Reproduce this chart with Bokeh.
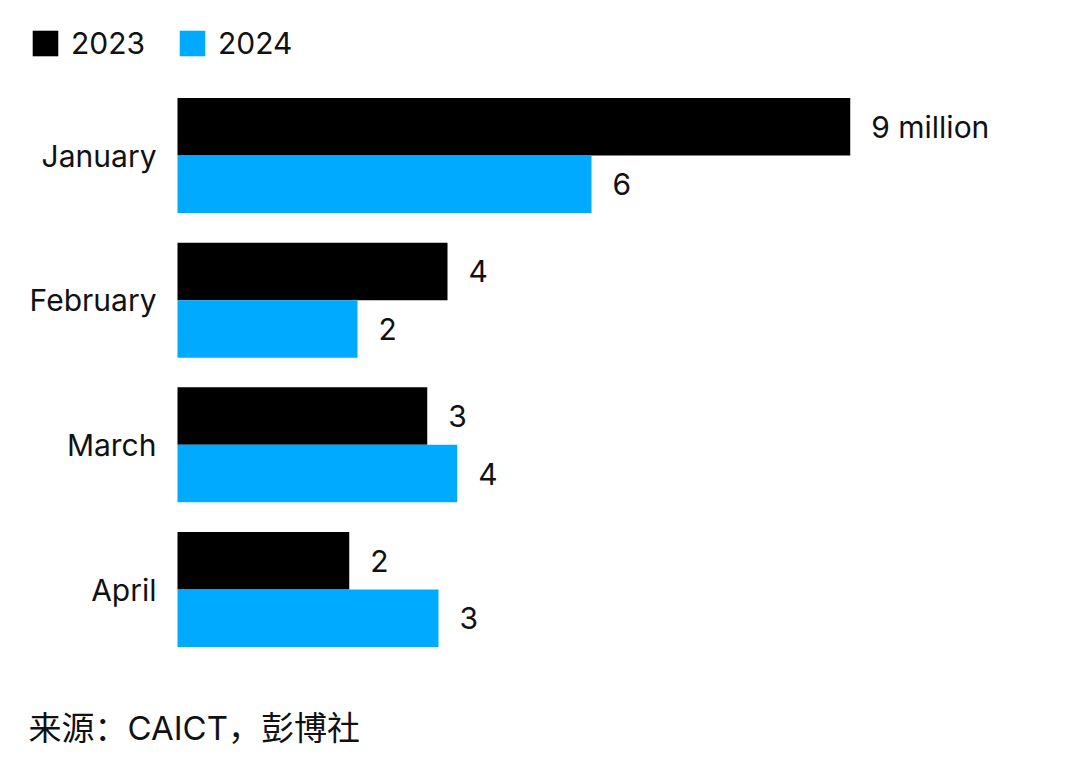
from bokeh.plotting import figure
from bokeh.models import ColumnDataSource, Range1d, Legend, LegendItem, Label
from bokeh.transform import dodge
from bokeh.core.properties import value
from bokeh.embed import file_html
from bokeh.resources import INLINE

months = ["January", "February", "March", "April"]
vals_2023 = [8.97, 3.60, 3.33, 2.29]
vals_2024 = [5.52, 2.40, 3.73, 3.48]
labels_2023 = ["9 million", "4", "3", "2"]
labels_2024 = ["6", "2", "4", "3"]
source_text = "来源：CAICT，彭博社"

FONT = "Inter, 'Noto Sans CJK SC', sans-serif"
TXT = "#111111"
BLACK = "#000000"
BLUE = "#00AAFF"

src = ColumnDataSource(dict(
    y=list(range(len(months))), m=months,
    v23=vals_2023, v24=vals_2024,
    l23=labels_2023, l24=labels_2024,
))

W, H = 1075, 770
X0 = 177.0      # pixel position of value 0
XS = 75.0       # pixels per million
Y0 = 155.0      # pixel centre of first group
YS = 144.67     # pixels per group

p = figure(width=W, height=H, output_backend="svg", toolbar_location=None,
           x_range=Range1d(-X0 / XS, (W - X0) / XS),
           y_range=Range1d((H - Y0) / YS, -Y0 / YS),
           min_border=0, min_border_left=0, min_border_right=0,
           min_border_top=0, min_border_bottom=0)
p.outline_line_color = None
p.xgrid.visible = False
p.ygrid.visible = False
p.xaxis.visible = False
p.yaxis.visible = False
p.background_fill_color = "white"
p.border_fill_color = "white"

bh = 0.3975
r23 = p.hbar(y=dodge("y", -bh / 2), right="v23", left=0, height=bh, source=src,
             fill_color=BLACK, line_color=None)
r24 = p.hbar(y=dodge("y", bh / 2), right="v24", left=0, height=bh, source=src,
             fill_color=BLUE, line_color=None)

p.text(x="v23", y=dodge("y", -bh / 2), text="l23", source=src, x_offset=21,
       text_baseline="middle", text_align="left", text_font=value(FONT),
       text_font_size="30px", text_color=TXT)
p.text(x="v24", y=dodge("y", bh / 2), text="l24", source=src, x_offset=21,
       text_baseline="middle", text_align="left", text_font=value(FONT),
       text_font_size="30px", text_color=TXT)

# category labels
p.text(x=0, y="y", text="m", source=src, x_offset=-21,
       text_baseline="middle", text_align="right", text_font=value(FONT),
       text_font_size="30px", text_color=TXT)

legend = Legend(items=[LegendItem(label="2023", renderers=[r23]),
                       LegendItem(label="2024", renderers=[r24])],
                orientation="horizontal", location=(29, H - 61),
                glyph_width=32, glyph_height=32, label_standoff=10, spacing=31,
                padding=0, margin=0, border_line_color=None,
                background_fill_alpha=0,
                label_text_font=FONT, label_text_font_size="30px",
                label_text_color=TXT)
p.add_layout(legend, "center")

p.add_layout(Label(x=28, y=H - 727, x_units="screen", y_units="screen",
                   text=source_text, text_font=FONT, text_font_size="33px",
                   text_baseline="middle", text_color=TXT))

open("out.html", "w").write(file_html(p, INLINE))
